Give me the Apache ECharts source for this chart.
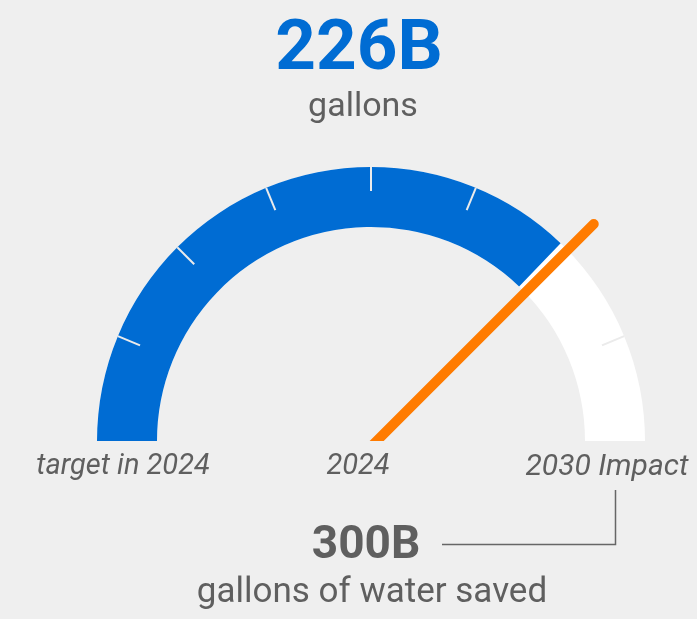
<!DOCTYPE html>
<html>
<head>
<meta charset="utf-8">
<script src="https://cdn.jsdelivr.net/npm/echarts@6/dist/echarts.min.js"></script>
<style>
html,body{margin:0;padding:0;background:#efefef;}
#chart{width:697px;height:619px;}
</style>
</head>
<body>
<div id="chart"></div>
<script>
// ---- data ----
const headlineText = '226B';
const headlineUnit = 'gallons';
const scaleLabels = ['target in 2024', '2024', '2030 Impact'];
const gaugeMin = 0;
const gaugeMax = 300;
const progressValue = 223;   // end of the blue band
const needleValue = 225;     // needle position
const targetText = '300B';
const targetUnit = 'gallons of water saved';

// ---- style ----
const BLUE = '#006cd3';
const ORANGE = '#ff7b00';
const GRAY = '#5f5f5f';
const BG = '#efefef';
const CX = 371, CY = 441, R = 274, BAND = 60;

const chart = echarts.init(document.getElementById('chart'), null, {renderer: 'canvas'});

const base = {
  type: 'gauge',
  center: [CX, CY],
  radius: R,
  startAngle: 180,
  endAngle: 0,
  min: gaugeMin,
  max: gaugeMax,
  axisTick: {show: false},
  splitLine: {show: false},
  axisLabel: {show: false},
  pointer: {show: false},
  anchor: {show: false},
  title: {show: false},
  detail: {show: false},
  animation: false
};

const option = {
  backgroundColor: BG,
  animation: false,
  series: [
    Object.assign({}, base, {
      z: 2,
      axisLine: {show: true, lineStyle: {width: BAND, color: [[1, '#ffffff']]}},
      progress: {show: true, width: BAND, roundCap: false, itemStyle: {color: BLUE}},
      data: [{value: progressValue}]
    }),
    Object.assign({}, base, {
      z: 3,
      startAngle: 157.5,
      endAngle: 22.5,
      splitNumber: 6,
      axisLine: {show: false, lineStyle: {width: 0}},
      splitLine: {show: true, length: 24, distance: 0, lineStyle: {color: '#ebebeb', width: 2}},
      data: []
    }),
    Object.assign({}, base, {
      z: 4,
      axisLine: {show: false, lineStyle: {width: 0}},
      pointer: {
        show: true,
        icon: 'path://M0,5 A5,5 0 0 1 10,5 L10,324 L0,324 Z',
        length: 324,
        width: 10,
        offsetCenter: [4, 8],
        itemStyle: {color: ORANGE}
      },
      data: [{value: needleValue}]
    })
  ],
  graphic: [
    {type: 'rect', z: 100, shape: {x: 330, y: CY, width: 90, height: 13}, style: {fill: BG}},
    {type: 'text', z: 101, style: {text: headlineText, x: 359, y: 51, align: 'center', verticalAlign: 'middle',
      font: 'bold 71px Roboto', fill: BLUE}},
    {type: 'text', z: 101, style: {text: headlineUnit, x: 363, y: 107, align: 'center', verticalAlign: 'middle',
      font: '34px Roboto', fill: GRAY}},
    {type: 'text', z: 101, style: {text: scaleLabels[0], x: 123, y: 467, align: 'center', verticalAlign: 'middle',
      font: 'italic 29px Roboto', fill: GRAY}},
    {type: 'text', z: 101, style: {text: scaleLabels[1], x: 358, y: 467, align: 'center', verticalAlign: 'middle',
      font: 'italic 29px Roboto', fill: GRAY}},
    {type: 'text', z: 101, style: {text: scaleLabels[2], x: 607, y: 467, align: 'center', verticalAlign: 'middle',
      font: 'italic 30px Roboto', fill: GRAY}},
    {type: 'text', z: 101, style: {text: targetText, x: 366, y: 546, align: 'center', verticalAlign: 'middle',
      font: 'bold 46px Roboto', fill: GRAY}},
    {type: 'text', z: 101, style: {text: targetUnit, x: 372, y: 593, align: 'center', verticalAlign: 'middle',
      font: '35px Roboto', fill: GRAY}},
    {type: 'polyline', z: 101, shape: {points: [[442, 544.5], [615.5, 544.5], [615.5, 490]]},
      style: {stroke: '#666666', lineWidth: 1.5, fill: null}}
  ]
};
chart.setOption(option);
</script>
</body>
</html>
